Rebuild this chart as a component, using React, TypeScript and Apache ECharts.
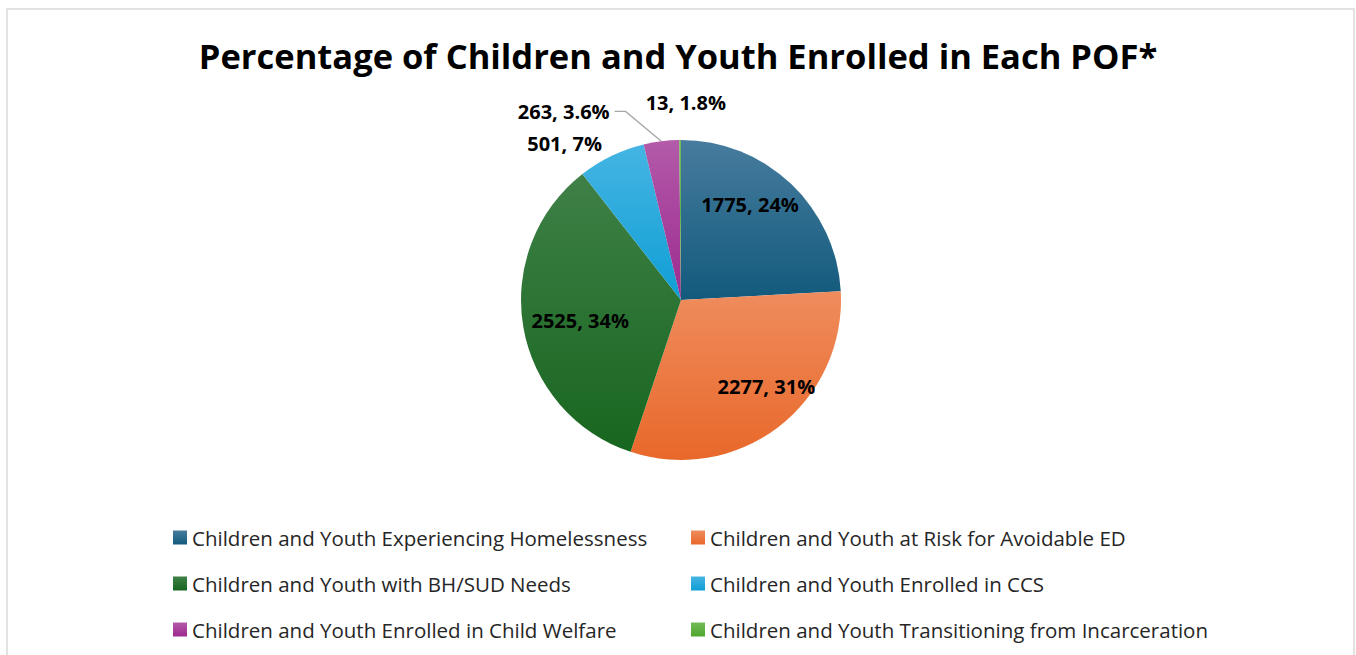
import React, { useEffect, useRef } from "react";
import * as echarts from "echarts";

const titleText = "Percentage of Children and Youth Enrolled in Each POF*";
const categories = [
  "Children and Youth Experiencing Homelessness",
  "Children and Youth at Risk for Avoidable ED",
  "Children and Youth with BH/SUD Needs",
  "Children and Youth Enrolled in CCS",
  "Children and Youth Enrolled in Child Welfare",
  "Children and Youth Transitioning from Incarceration",
];
const values = [1775, 2277, 2525, 501, 263, 13];
const percentLabels = ["24%", "31%", "34%", "7%", "3.6%", "1.8%"];

const baseColors = ["#125a7c", "#e8682a", "#17661f", "#0f9ed5", "#9c2a90", "#4ea72e"];
const topColors = ["#477c9e", "#ef8c5d", "#3f8047", "#45b5e3", "#b35aa9", "#72bb57"];
const labelPositions = ["inside", "inside", "inside", "outside", "outside", "outside"];
const labelShifts = [[12, -35], [35, 21], [-19, 6], [12, 1.5], [0, 0], [61, -23]];

const FONT = "'Open Sans', 'Liberation Sans', Arial, sans-serif";

export default function App() {
  const ref = useRef<HTMLDivElement>(null);
  useEffect(() => {
    if (!ref.current) return;
    const chart = echarts.init(ref.current, null, { renderer: "svg" });
    const data = values.map((v, i) => ({
      name: categories[i],
      value: v,
      itemStyle: {
        color: new echarts.graphic.LinearGradient(0, 0, 0, 1, [
          { offset: 0, color: topColors[i] },
          { offset: 1, color: baseColors[i] },
        ]),
      },
      label: { position: labelPositions[i] },
      labelLine:
        i === 4
          ? { show: true, length: 30, length2: 43, lineStyle: { color: "#a6a6a6", width: 1.3 } }
          : { show: false },
    }));
    chart.setOption({
      animation: false,
      backgroundColor: "#ffffff",
      textStyle: { fontFamily: FONT },
      graphic: [
        {
          type: "rect",
          silent: true,
          shape: { x: 7, y: 9, width: 1347, height: 700 },
          style: { fill: "none", stroke: "#d9d9d9", lineWidth: 1.5 },
        },
      ],
      title: {
        text: titleText,
        left: "center",
        top: 30,
        textStyle: {
          fontFamily: FONT,
          fontSize: 34.5,
          fontWeight: "bold",
          color: "#000000",
          lineHeight: 40,
        },
      },
      legend: [
        {
          data: [categories[0], categories[2], categories[4]],
          orient: "vertical",
          left: 168,
          top: 522,
          itemWidth: 14,
          itemHeight: 14,
          itemGap: 25,
          icon: "rect",
          selectedMode: false,
          textStyle: { fontFamily: FONT, fontSize: 20.5, color: "#262626", lineHeight: 20 },
        },
        {
          data: [categories[1], categories[3], categories[5]],
          orient: "vertical",
          left: 686,
          top: 522,
          itemWidth: 14,
          itemHeight: 14,
          itemGap: 25,
          icon: "rect",
          selectedMode: false,
          textStyle: { fontFamily: FONT, fontSize: 20.5, color: "#262626", lineHeight: 20 },
        },
      ],
      series: [
        {
          type: "pie",
          center: [681, 300],
          radius: 160,
          startAngle: 90,
          clockwise: true,
          avoidLabelOverlap: false,
          data,
          label: {
            show: true,
            fontFamily: FONT,
            fontSize: 20,
            fontWeight: "bold",
            color: "#000000",
            formatter: (p: any) => `${p.value}, ${percentLabels[p.dataIndex]}`,
          },
          labelLine: { show: false, length: 15, length2: 10 },
          labelLayout: (params: any) => {
            const [dx, dy] = labelShifts[params.dataIndex];
            if (!dx && !dy) {
              const pts = params.labelLinePoints;
              if (pts && pts.length === 3) {
                return {
                  labelLinePoints: [
                    pts[0],
                    [pts[2][0] + 11, pts[2][1]],
                    pts[2],
                  ],
                };
              }
              return {};
            }
            const r = params.labelRect;
            return {
              x: r.x + r.width / 2 + dx,
              y: r.y + r.height / 2 + dy,
              align: "center",
              verticalAlign: "middle",
            };
          },
          emphasis: { disabled: true },
        },
      ],
    });
    return () => chart.dispose();
  }, []);
  return (
    <div
      ref={ref}
      style={{ position: "fixed", left: 0, top: 0, width: 1356, height: 655 }}
    />
  );
}
